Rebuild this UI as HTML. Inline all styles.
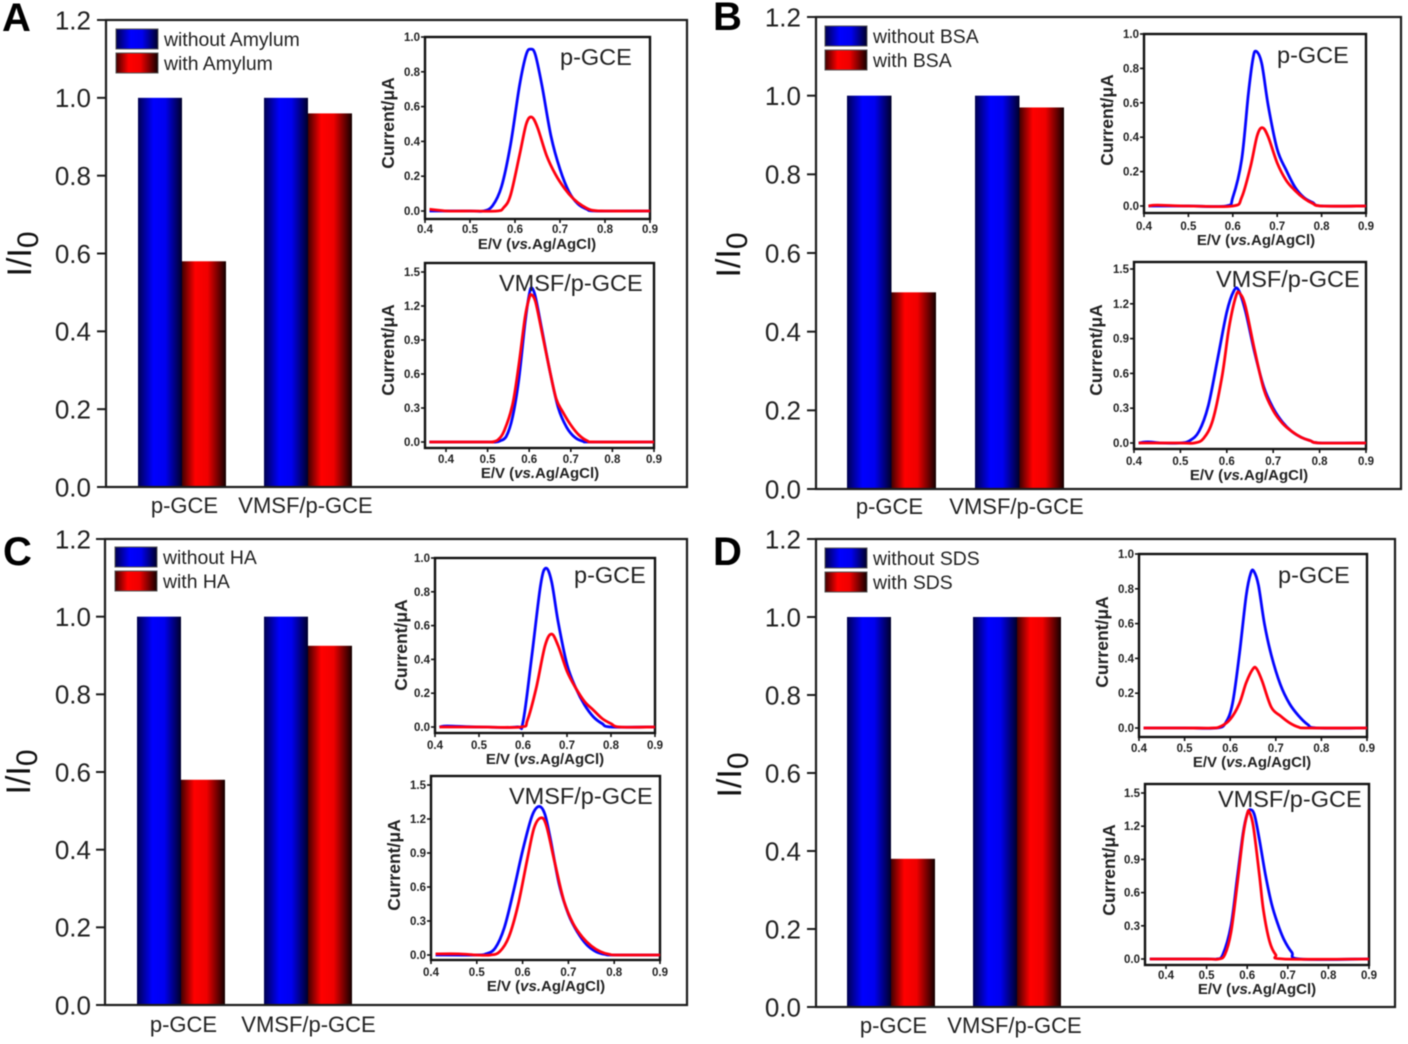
<!DOCTYPE html>
<html lang="en">
<head>
<meta charset="utf-8">
<title>Relative current bar charts with voltammogram insets</title>
<style>
html,body{margin:0;padding:0;background:#fff;width:1408px;height:1044px;overflow:hidden}
svg{display:block;filter:blur(.65px)}
text{font-family:"Liberation Sans",sans-serif}
</style>
</head>
<body>
<svg id="figure" xmlns="http://www.w3.org/2000/svg" width="1408" height="1044" viewBox="0 0 1408 1044">
<defs>
<linearGradient id="blueFill" x1="0" x2="1" y1="0" y2="0"><stop offset="0" stop-color="#000050"/><stop offset=".35" stop-color="#0000ff"/><stop offset=".62" stop-color="#0000f0"/><stop offset="1" stop-color="#000028"/></linearGradient>
<linearGradient id="redFill" x1="0" x2="1" y1="0" y2="0"><stop offset="0" stop-color="#400000"/><stop offset=".3" stop-color="#ff0000"/><stop offset=".58" stop-color="#f00000"/><stop offset="1" stop-color="#120000"/></linearGradient>
</defs>
</svg>
<script>
// ---------- bar chart data ----------
const categories = ['p-GCE', 'VMSF/p-GCE'];
const yTicks = [0, 0.2, 0.4, 0.6, 0.8, 1.0, 1.2];
const withoutAmylum = [1, 1];
const withAmylum = [0.58, 0.96];
const withoutBSA = [1, 1];
const withBSA = [0.5, 0.97];
const withoutHA = [1, 1];
const withHA = [0.58, 0.925];
const withoutSDS = [1, 1];
const withSDS = [0.38, 1];

// ---------- inset tick labels ----------
const insetXTicks = [0.4, 0.5, 0.6, 0.7, 0.8, 0.9];
const insetYTicksTop = [0, 0.2, 0.4, 0.6, 0.8, 1.0];
const insetYTicksBottom = [0, 0.3, 0.6, 0.9, 1.2, 1.5];

// ---------- voltammograms: [potential (V), current (uA)] ----------
const aTopBlue = [[0.41,0],[0.5,0],[0.53,0],[0.55,0.03],[0.57,0.14],[0.59,0.38],[0.61,0.72],[0.625,0.9],[0.635,0.93],[0.645,0.9],[0.66,0.72],[0.68,0.43],[0.7,0.24],[0.72,0.11],[0.74,0.04],[0.76,0.01],[0.78,0],[0.9,0]];
const aTopRed = [[0.41,0.01],[0.45,0],[0.5,0],[0.56,0],[0.575,0.02],[0.59,0.09],[0.61,0.32],[0.625,0.5],[0.637,0.54],[0.65,0.48],[0.67,0.32],[0.69,0.21],[0.71,0.13],[0.73,0.07],[0.75,0.03],[0.77,0.005],[0.8,0],[0.9,0]];
const aBottomBlue = [[0.36,0],[0.5,0],[0.52,0],[0.53,0.01],[0.545,0.05],[0.56,0.22],[0.575,0.55],[0.59,1.05],[0.6,1.3],[0.606,1.36],[0.615,1.28],[0.63,1],[0.65,0.62],[0.67,0.3],[0.69,0.13],[0.71,0.04],[0.73,0.005],[0.75,0],[0.9,0]];
const aBottomRed = [[0.36,0],[0.5,0],[0.51,0],[0.525,0.02],[0.54,0.1],[0.56,0.33],[0.575,0.68],[0.59,1.1],[0.6,1.27],[0.605,1.3],[0.615,1.24],[0.63,0.98],[0.65,0.62],[0.665,0.38],[0.68,0.27],[0.7,0.15],[0.72,0.06],[0.74,0.01],[0.76,0],[0.9,0]];
const bTopBlue = [[0.41,0],[0.5,0],[0.585,0],[0.6,0.05],[0.62,0.27],[0.635,0.65],[0.645,0.85],[0.652,0.9],[0.665,0.83],[0.68,0.58],[0.7,0.33],[0.72,0.21],[0.74,0.11],[0.76,0.05],[0.78,0.02],[0.8,0],[0.9,0]];
const bTopRed = [[0.41,0],[0.43,0.005],[0.5,0],[0.6,0],[0.62,0.05],[0.64,0.23],[0.655,0.41],[0.667,0.455],[0.68,0.4],[0.7,0.25],[0.72,0.15],[0.74,0.09],[0.76,0.045],[0.78,0.015],[0.8,0],[0.9,0]];
const bBottomBlue = [[0.41,0],[0.43,0.01],[0.46,0],[0.5,0],[0.52,0.02],[0.54,0.1],[0.56,0.32],[0.58,0.72],[0.6,1.13],[0.615,1.31],[0.625,1.32],[0.64,1.14],[0.66,0.78],[0.68,0.48],[0.7,0.3],[0.72,0.18],[0.74,0.1],[0.76,0.05],[0.78,0.02],[0.8,0],[0.9,0]];
const bBottomRed = [[0.41,0],[0.5,0],[0.53,0],[0.55,0.04],[0.57,0.2],[0.59,0.58],[0.605,1],[0.62,1.27],[0.628,1.29],[0.64,1.18],[0.66,0.8],[0.68,0.46],[0.7,0.28],[0.72,0.17],[0.74,0.1],[0.76,0.05],[0.78,0.02],[0.8,0],[0.9,0]];
const cTopBlue = [[0.41,0],[0.42,0.005],[0.44,0.005],[0.5,0],[0.585,0],[0.6,0.03],[0.62,0.42],[0.64,0.84],[0.652,0.94],[0.665,0.86],[0.68,0.62],[0.7,0.37],[0.72,0.23],[0.74,0.13],[0.76,0.06],[0.78,0.02],[0.8,0],[0.9,0]];
const cTopRed = [[0.41,0],[0.5,0],[0.595,0],[0.61,0.04],[0.63,0.23],[0.65,0.48],[0.665,0.55],[0.68,0.48],[0.7,0.33],[0.72,0.23],[0.74,0.15],[0.76,0.1],[0.78,0.05],[0.8,0.02],[0.82,0],[0.9,0]];
const cBottomBlue = [[0.41,0],[0.5,0],[0.52,0.01],[0.54,0.06],[0.56,0.24],[0.58,0.56],[0.6,0.92],[0.62,1.22],[0.635,1.31],[0.648,1.25],[0.66,1.04],[0.68,0.62],[0.7,0.36],[0.72,0.2],[0.74,0.09],[0.76,0.03],[0.78,0.005],[0.8,0],[0.9,0]];
const cBottomRed = [[0.41,0.01],[0.46,0.01],[0.5,0],[0.53,0],[0.55,0.03],[0.57,0.16],[0.59,0.44],[0.61,0.84],[0.625,1.12],[0.64,1.21],[0.652,1.14],[0.67,0.82],[0.69,0.48],[0.71,0.28],[0.73,0.16],[0.75,0.08],[0.77,0.03],[0.79,0.005],[0.81,0],[0.9,0]];
const dTopBlue = [[0.41,0],[0.5,0],[0.57,0],[0.59,0.03],[0.605,0.14],[0.62,0.42],[0.635,0.76],[0.645,0.89],[0.652,0.9],[0.662,0.82],[0.675,0.6],[0.69,0.42],[0.71,0.25],[0.73,0.14],[0.75,0.07],[0.77,0.02],[0.79,0],[0.9,0]];
const dTopRed = [[0.41,0],[0.5,0],[0.56,0],[0.58,0.01],[0.6,0.05],[0.62,0.14],[0.635,0.26],[0.65,0.34],[0.658,0.34],[0.67,0.27],[0.69,0.12],[0.71,0.07],[0.73,0.03],[0.75,0.005],[0.77,0],[0.9,0]];
const dBottomBlue = [[0.36,0],[0.5,0],[0.525,0],[0.54,0.04],[0.56,0.3],[0.575,0.72],[0.59,1.14],[0.6,1.31],[0.608,1.35],[0.618,1.3],[0.63,1.08],[0.645,0.76],[0.66,0.5],[0.675,0.32],[0.69,0.18],[0.71,0.06],[0.73,0],[0.9,0]];
const dBottomRed = [[0.36,0],[0.5,0],[0.53,0],[0.545,0.04],[0.56,0.24],[0.575,0.66],[0.59,1.12],[0.6,1.31],[0.605,1.33],[0.615,1.2],[0.63,0.76],[0.64,0.44],[0.655,0.16],[0.67,0.04],[0.69,0],[0.9,0]];

// ---------- layout (pixels) ----------
const panels = [
  { id:'a', letter:'A', lx:2, ly:31, frame:[106,20,687,487], yTop:20, yZero:487, tickEnd:91, titleX:37, titleY:254,
    groups:[138,264], barW:44, catX:[184,305], catY:513, sw:[116,29], leg:[164,46],
    names:['without Amylum','with Amylum'], s0:withoutAmylum, s1:withAmylum,
    insets:[
      { tag:'top', frame:[425,37,650,219], x4:425, x9:650, yMaxPx:37, yZero:211, yMax:1.0, yt:insetYTicksTop, tickLabelY:233, xTitle:[537,249], yTitle:[394,123], label:['p-GCE',560,65], blue:aTopBlue, red:aTopRed },
      { tag:'bottom', frame:[425,263,654,448], x4:446, x9:654, yMaxPx:272, yZero:442, yMax:1.5, yt:insetYTicksBottom, tickLabelY:463, xTitle:[540,478], yTitle:[394,350], label:['VMSF/p-GCE',499,291], blue:aBottomBlue, red:aBottomRed }
    ] },
  { id:'b', letter:'B', lx:713, ly:30, frame:[816,17,1401,489], yTop:17, yZero:489, tickEnd:801, titleX:746, titleY:255,
    groups:[847,975], barW:44.5, catX:[889,1016], catY:514, sw:[825,26], leg:[873,43],
    names:['without BSA','with BSA'], s0:withoutBSA, s1:withBSA,
    insets:[
      { tag:'top', frame:[1144,34,1366,213], x4:1144, x9:1366, yMaxPx:34, yZero:206, yMax:1.0, yt:insetYTicksTop, tickLabelY:230, xTitle:[1256,245], yTitle:[1113,120], label:['p-GCE',1277,63], blue:bTopBlue, red:bTopRed },
      { tag:'bottom', frame:[1134,262,1366,449], x4:1134, x9:1366, yMaxPx:269, yZero:443, yMax:1.5, yt:insetYTicksBottom, tickLabelY:465, xTitle:[1249,480], yTitle:[1102,350], label:['VMSF/p-GCE',1216,287], blue:bBottomBlue, red:bBottomRed }
    ] },
  { id:'c', letter:'C', lx:3, ly:565, frame:[105,539,687,1005], yTop:539, yZero:1005, tickEnd:91, titleX:36, titleY:772,
    groups:[137,264], barW:44, catX:[183,308], catY:1032, sw:[115,547], leg:[163,564],
    names:['without HA','with HA'], s0:withoutHA, s1:withHA,
    insets:[
      { tag:'top', frame:[435,558,655,733], x4:435, x9:655, yMaxPx:558, yZero:727, yMax:1.0, yt:insetYTicksTop, tickLabelY:749, xTitle:[545,764], yTitle:[407,645], label:['p-GCE',574,583], blue:cTopBlue, red:cTopRed },
      { tag:'bottom', frame:[431,776,660,960], x4:431, x9:660, yMaxPx:785, yZero:955, yMax:1.5, yt:insetYTicksBottom, tickLabelY:976, xTitle:[546,991], yTitle:[400,865], label:['VMSF/p-GCE',509,804], blue:cBottomBlue, red:cBottomRed }
    ] },
  { id:'d', letter:'D', lx:713, ly:565, frame:[816,539,1395,1007], yTop:539, yZero:1007, tickEnd:801, titleX:747, titleY:775,
    groups:[847,973], barW:44, catX:[893,1014], catY:1033, sw:[825,548], leg:[873,565],
    names:['without SDS','with SDS'], s0:withoutSDS, s1:withSDS,
    insets:[
      { tag:'top', frame:[1139,554,1367,737], x4:1139, x9:1367, yMaxPx:554, yZero:728, yMax:1.0, yt:insetYTicksTop, tickLabelY:752, xTitle:[1252,767], yTitle:[1108,642], label:['p-GCE',1278,583], blue:dTopBlue, red:dTopRed },
      { tag:'bottom', frame:[1145,784,1369,965], x4:1166, x9:1369, yMaxPx:793, yZero:959, yMax:1.5, yt:insetYTicksBottom, tickLabelY:979, xTitle:[1257,994], yTitle:[1115,870], label:['VMSF/p-GCE',1218,807], blue:dBottomBlue, red:dBottomRed }
    ] }
];

const NS = 'http://www.w3.org/2000/svg';
const root = document.getElementById('figure');

function mk(parent, tag, props, txt) {
  const node = document.createElementNS(NS, tag);
  for (const k in props) node.setAttribute(k, props[k]);
  if (txt !== undefined) node.textContent = txt;
  parent.appendChild(node);
  return node;
}

// Catmull-Rom smoothing through the read-out points
function smoothPath(pts) {
  let d = 'M' + pts[0][0].toFixed(2) + ' ' + pts[0][1].toFixed(2);
  for (let i = 0; i < pts.length - 1; i++) {
    const p0 = pts[Math.max(i - 1, 0)], p1 = pts[i], p2 = pts[i + 1], p3 = pts[Math.min(i + 2, pts.length - 1)];
    const c1x = p1[0] + (p2[0] - p0[0]) / 6, c1y = p1[1] + (p2[1] - p0[1]) / 6;
    const c2x = p2[0] - (p3[0] - p1[0]) / 6, c2y = p2[1] - (p3[1] - p1[1]) / 6;
    d += 'C' + c1x.toFixed(2) + ' ' + c1y.toFixed(2) + ' ' + c2x.toFixed(2) + ' ' + c2y.toFixed(2) + ' ' + p2[0].toFixed(2) + ' ' + p2[1].toFixed(2);
  }
  return d;
}

function drawInset(parent, p, ins) {
  const g = mk(parent, 'g', {});
  
  
  const xs = v => ins.x4 + (v - 0.4) * (ins.x9 - ins.x4) / 0.5;
  const ys = v => ins.yZero - v * (ins.yZero - ins.yMaxPx) / ins.yMax;
  const f = ins.frame;

  const frame = mk(g, 'rect', { x:f[0], y:f[1], width:f[2]-f[0], height:f[3]-f[1], fill:'none', stroke:'#111', 'stroke-width':2.4 });
  
  

  ins.yt.forEach(v => {
    const t = mk(g, 'line', { x1:f[0]-4, x2:f[0], y1:ys(v), y2:ys(v), stroke:'#111', 'stroke-width':1.6 });
    
    
    const l = mk(g, 'text', { x:f[0]-5, y:ys(v)+4, 'text-anchor':'end', 'font-size':11.5, 'font-weight':'bold', fill:'#222' }, v.toFixed(1));
    
    
  });
  insetXTicks.forEach(v => {
    const t = mk(g, 'line', { x1:xs(v), x2:xs(v), y1:f[3], y2:f[3]+4, stroke:'#111', 'stroke-width':1.6 });
    
    
    const l = mk(g, 'text', { x:xs(v), y:ins.tickLabelY, 'text-anchor':'middle', 'font-size':11.5, 'font-weight':'bold', fill:'#222' }, v.toFixed(1));
    
    
  });

  const blue = mk(g, 'path', { d:smoothPath(ins.blue.map(q => [xs(q[0]), ys(q[1])])), fill:'none', stroke:'#0505ff', 'stroke-width':2.8, 'stroke-linejoin':'round' });
  
  
  const red = mk(g, 'path', { d:smoothPath(ins.red.map(q => [xs(q[0]), ys(q[1])])), fill:'none', stroke:'#ff0010', 'stroke-width':2.8, 'stroke-linejoin':'round' });
  
  

  const lab = mk(g, 'text', { x:ins.label[1], y:ins.label[2], 'font-size':23.5, fill:'#222' }, ins.label[0]);
  
  

  const xt = mk(g, 'text', { x:ins.xTitle[0], y:ins.xTitle[1], 'text-anchor':'middle', 'font-size':15, 'font-weight':'bold', fill:'#222' });
  
  
  mk(xt, 'tspan', {}, 'E/V (');
  mk(xt, 'tspan', { 'font-style':'italic' }, 'vs.');
  mk(xt, 'tspan', {}, 'Ag/AgCl)');

  const yt = mk(g, 'text', { x:ins.yTitle[0], y:ins.yTitle[1], transform:'rotate(-90 ' + ins.yTitle[0] + ' ' + ins.yTitle[1] + ')', 'text-anchor':'middle', 'font-size':17.5, 'font-weight':'bold', fill:'#222' }, 'Current/μA');
  
  
}

function drawPanel(p) {
  const g = mk(root, 'g', {});
  
  
  const ys = v => p.yZero - v * (p.yZero - p.yTop) / 1.2;
  const f = p.frame;

  const letter = mk(g, 'text', { x:p.lx, y:p.ly, 'font-size':40, 'font-weight':'bold', fill:'#000' }, p.letter);
  
  

  categories.forEach((c, i) => {
    const gx = p.groups[i];
    const b0 = mk(g, 'rect', { x:gx, y:ys(p.s0[i]), width:p.barW, height:p.yZero-ys(p.s0[i]), fill:'url(#blueFill)' });
    
    
    const b1 = mk(g, 'rect', { x:gx+p.barW, y:ys(p.s1[i]), width:p.barW, height:p.yZero-ys(p.s1[i]), fill:'url(#redFill)' });
    
    
    const cl = mk(g, 'text', { x:p.catX[i] + 0.5, y:p.catY, 'text-anchor':'middle', 'font-size':22, fill:'#222' }, c);
    
    
  });

  const frame = mk(g, 'rect', { x:f[0], y:f[1], width:f[2]-f[0], height:f[3]-f[1], fill:'none', stroke:'#1c1c1c', 'stroke-width':2.2 });
  
  

  yTicks.forEach(v => {
    const t = mk(g, 'line', { x1:f[0]-9, x2:f[0], y1:ys(v), y2:ys(v), stroke:'#1c1c1c', 'stroke-width':2 });
    
    
    const l = mk(g, 'text', { x:p.tickEnd, y:ys(v)+9.3, 'text-anchor':'end', 'font-size':26, fill:'#222' }, v.toFixed(1));
    
    
  });

  const title = mk(g, 'text', { x:p.titleX - 6, y:p.titleY, transform:'rotate(-90 ' + (p.titleX - 6) + ' ' + p.titleY + ')', 'text-anchor':'middle', 'font-size':34, fill:'#111' });
  
  
  mk(title, 'tspan', {}, 'I/I');
  mk(title, 'tspan', { dy:7, 'font-size':30 }, '0');

  p.names.forEach((n, i) => {
    const sy = p.sw[1] + i * 24;
    const s = mk(g, 'rect', { x:p.sw[0], y:sy, width:42, height:20, fill:i ? 'url(#redFill)' : 'url(#blueFill)', stroke:'#555', 'stroke-width':1 });
    
    
    const t = mk(g, 'text', { x:p.leg[0], y:p.leg[1] + i * 24, 'font-size':19.4, fill:'#222' }, n);
    
    
  });

  p.insets.forEach(ins => drawInset(g, p, ins));
}

panels.forEach(drawPanel);
</script>
</body>
</html>
